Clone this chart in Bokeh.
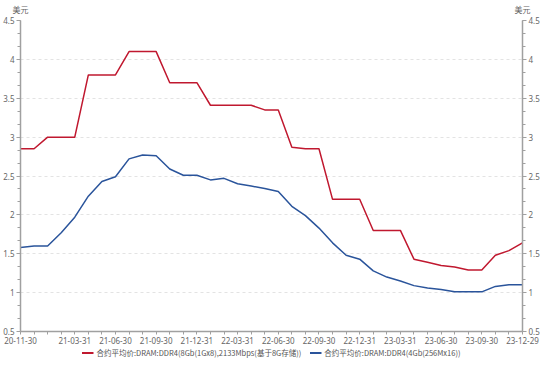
from bokeh.plotting import figure
from bokeh.layouts import column
from bokeh.models import (LinearAxis, FixedTicker, Range1d, Legend, LegendItem)
from bokeh.embed import file_html
from bokeh.resources import INLINE

# ---- data ----
dates = ["20-11-30", "20-12-31", "21-01-31", "21-02-28", "21-03-31", "21-04-30", "21-05-31",
         "21-06-30", "21-07-31", "21-08-31", "21-09-30", "21-10-31", "21-11-30", "21-12-31",
         "22-01-31", "22-02-28", "22-03-31", "22-04-30", "22-05-31", "22-06-30", "22-07-31",
         "22-08-31", "22-09-30", "22-10-31", "22-11-30", "22-12-31", "23-01-31", "23-02-28",
         "23-03-31", "23-04-30", "23-05-31", "23-06-30", "23-07-31", "23-08-31", "23-09-30",
         "23-10-31", "23-11-30", "23-12-29"]
labeled_dates = ["20-11-30", "21-03-31", "21-06-30", "21-09-30", "21-12-31", "22-03-31",
                 "22-06-30", "22-09-30", "22-12-31", "23-03-31", "23-06-30", "23-09-30",
                 "23-12-29"]
ddr4_8gb = [2.85, 2.85, 3.0, 3.0, 3.0, 3.8, 3.8, 3.8, 4.1, 4.1, 4.1, 3.7, 3.7, 3.7,
            3.41, 3.41, 3.41, 3.41, 3.35, 3.35, 2.87, 2.85, 2.85, 2.2, 2.2, 2.2, 1.8, 1.8,
            1.8, 1.43, 1.39, 1.35, 1.33, 1.29, 1.29, 1.48, 1.54, 1.64]
ddr4_4gb = [1.58, 1.6, 1.6, 1.77, 1.97, 2.24, 2.43, 2.49, 2.72, 2.77, 2.76, 2.59, 2.51, 2.51,
            2.45, 2.47, 2.4, 2.37, 2.34, 2.3, 2.11, 1.99, 1.83, 1.64, 1.48, 1.43, 1.28, 1.2,
            1.15, 1.09, 1.06, 1.04, 1.01, 1.01, 1.01, 1.08, 1.1, 1.1]
name_8gb = "合约平均价:DRAM:DDR4(8Gb(1Gx8),2133Mbps(基于8G存储))"
name_4gb = "合约平均价:DRAM:DDR4(4Gb(256Mx16))"
y_ticks = [0.5, 1.0, 1.5, 2.0, 2.5, 3.0, 3.5, 4.0, 4.5]
y_tick_labels = ["0.5", "1", "1.5", "2", "2.5", "3", "3.5", "4", "4.5"]
unit = "美元"

x = list(range(len(dates)))

RED = "#c0182f"
BLUE = "#2a549b"
AX = "#a0a0a0"
TXT = "#666666"
FONT = "Noto Sans"
CJK = "Noto Sans CJK SC"

p = figure(width=542, height=346, output_backend="svg",
           toolbar_location=None,
           x_range=Range1d(0, len(dates) - 1), y_range=Range1d(0.5, 4.5),
           min_border_top=20, min_border_bottom=0, min_border_left=20, min_border_right=17,
           x_axis_location="below", y_axis_location="left")
p.outline_line_color = None
p.background_fill_color = "white"
p.border_fill_color = "white"

r1 = p.line(x, ddr4_8gb, line_color=RED, line_width=1.5)
r2 = p.line(x, ddr4_4gb, line_color=BLUE, line_width=1.5)

minor_y = [0.5 + k / 6 for k in range(25)]
y_overrides = {t: l for t, l in zip(y_ticks, y_tick_labels)}


def style_axis(ax):
    ax.axis_line_color = AX
    ax.axis_line_width = 1.5
    ax.major_tick_line_color = AX
    ax.minor_tick_line_color = AX
    ax.major_tick_out = 4
    ax.major_tick_in = 0
    ax.minor_tick_out = 3
    ax.minor_tick_in = 0
    ax.major_label_text_font = FONT
    ax.major_label_text_font_size = "8px"
    ax.major_label_text_color = TXT
    ax.major_label_standoff = 2


# y axes
p.yaxis.ticker = FixedTicker(ticks=y_ticks, minor_ticks=minor_y)
p.yaxis.major_label_overrides = y_overrides
style_axis(p.yaxis[0])
ry = LinearAxis(ticker=FixedTicker(ticks=y_ticks, minor_ticks=minor_y),
                major_label_overrides=y_overrides)
style_axis(ry)
p.add_layout(ry, "right")

# x axis
x_overrides = {i: (d if d in labeled_dates else "") for i, d in enumerate(dates)}
p.xaxis.ticker = FixedTicker(ticks=x)
p.xaxis.major_label_overrides = x_overrides
style_axis(p.xaxis[0])
p.xaxis.major_tick_out = 3

# unit labels above both y axes
unit_axis = LinearAxis(ticker=FixedTicker(ticks=[0, len(dates) - 1]),
                       major_label_overrides={0: unit, len(dates) - 1: unit},
                       axis_line_color=None, major_tick_line_color=None,
                       minor_tick_line_color=None, major_tick_out=0, major_tick_in=0,
                       minor_tick_out=0, minor_tick_in=0, major_label_standoff=6,
                       major_label_text_font=CJK, major_label_text_font_size="8px",
                       major_label_text_color=TXT)
p.add_layout(unit_axis, "above")

p.xgrid.visible = False
p.ygrid.ticker = FixedTicker(ticks=y_ticks)
p.ygrid.grid_line_color = "#e3e3e3"
p.ygrid.grid_line_dash = "3 3"

# legend strip below the chart (series drawn out of view; only the legend shows)
p2 = figure(width=542, height=12, output_backend="svg", toolbar_location=None,
            x_axis_location=None, y_axis_location=None,
            min_border_top=0, min_border_bottom=0, min_border_left=0, min_border_right=0,
            x_range=Range1d(0, len(dates) - 1), y_range=Range1d(10, 11))
p2.outline_line_color = None
p2.xgrid.visible = False
p2.ygrid.visible = False
l1 = p2.line(x, ddr4_8gb, line_color=RED, line_width=2)
l2 = p2.line(x, ddr4_4gb, line_color=BLUE, line_width=2)

legend = Legend(items=[LegendItem(label=name_8gb, renderers=[l1]),
                       LegendItem(label=name_4gb, renderers=[l2])],
                orientation="horizontal", location="center",
                label_text_font=CJK, label_text_font_size="7.5px", label_text_color="#555555",
                glyph_width=12, glyph_height=10, label_height=10, label_standoff=3,
                spacing=8, padding=0, margin=0, border_line_color=None,
                background_fill_alpha=0)
p2.add_layout(legend, "center")

layout = column(p, p2, spacing=0)

open("out.html", "w").write(file_html(layout, INLINE))
